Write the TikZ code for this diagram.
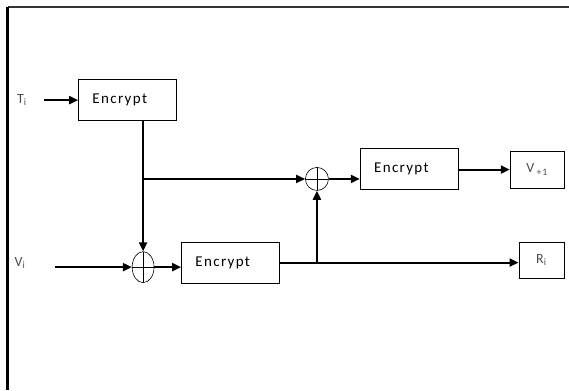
\documentclass[tikz,border=0pt]{standalone}
\usepackage{fontspec}
\setmainfont{Carlito}
\newfontfamily\encfont[LetterSpace=9]{Carlito}
\usetikzlibrary{arrows.meta, positioning, shapes.geometric}

\tikzset{
    encbox/.style={draw, line width=0.7pt, minimum width=3.44cm, minimum height=1.43cm,
        inner xsep=0.49cm, text width=2.46cm, align=left, font=\encfont\fontsize{15}{18}\selectfont},
    outbox/.style={draw, line width=0.7pt, font=\encfont\fontsize{14}{16}\selectfont, text=black!70},
    xorop/.style={draw, line width=0.6pt, inner sep=0pt,
        path picture={\draw[line width=0.5pt]
            (path picture bounding box.north) -- (path picture bounding box.south)
            (path picture bounding box.west) -- (path picture bounding box.east);}},
    wire/.style={line width=2pt, -{Triangle[length=9pt, width=8pt]}},
    inlabel/.style={font=\encfont\fontsize{14}{16}\selectfont, text=black!70}
}

\begin{document}
\begin{tikzpicture}
    \useasboundingbox (0,0) rectangle (20.0,13.71);
    % frame
    \draw[line width=1.4pt, black!80] (0.28,13.46) -- (20.0,13.46);
    \draw[line width=3pt] (0.28,13.46) -- (0.28,0);

    % blocks
    \node[encbox] (enc1) at (4.48,10.19) {Encrypt};
    \node[encbox] (enc2) at (14.38,7.77) {Encrypt};
    \node[encbox] (enc3) at (8.10,4.48) {Encrypt};
    \node[outbox, minimum width=1.90cm, minimum height=1.30cm] (vout) at (18.88,7.75) {V\,\textsubscript{+1}};
    \node[outbox, minimum width=1.58cm, minimum height=1.27cm] (rout) at (19.03,4.57) {R\textsubscript{i}};
    \node[xorop, circle, minimum size=0.81cm] (xor2) at (11.14,7.42) {};
    \node[xorop, ellipse, minimum width=0.77cm, minimum height=1.09cm] (xor1) at (5.03,4.32) {};

    % inputs
    \node[inlabel] (tin) at (0.77,10.19) {T\textsubscript{i}};
    \node[inlabel] (vin) at (0.70,4.46) {V\textsubscript{i}};
    \coordinate (tstart) at (1.55,10.19);
    \coordinate (vstart) at (1.93,4.32);

    % connectors
    \draw[wire] (tstart) -- (enc1.west);
    \draw[wire] (vstart) -- (xor1.west);
    \draw[wire] (enc1.south -| xor1) -- (xor1.north);
    \coordinate (split) at (xor1 |- xor2);
    \draw[wire] (split) -- (xor2.west);
    \draw[wire] (xor1.east) -- (xor1.east -| enc3.west);
    \draw[wire] (xor2.east) -- (xor2.east -| enc2.west);
    \draw[wire] (enc2.east |- vout) -- (vout.west);
    \draw[wire] (enc3.east) -- (enc3.east -| rout.west);
    \coordinate (tap) at (enc3.east -| xor2);
    \draw[wire] (tap) -- (xor2.south);
\end{tikzpicture}
\end{document}
